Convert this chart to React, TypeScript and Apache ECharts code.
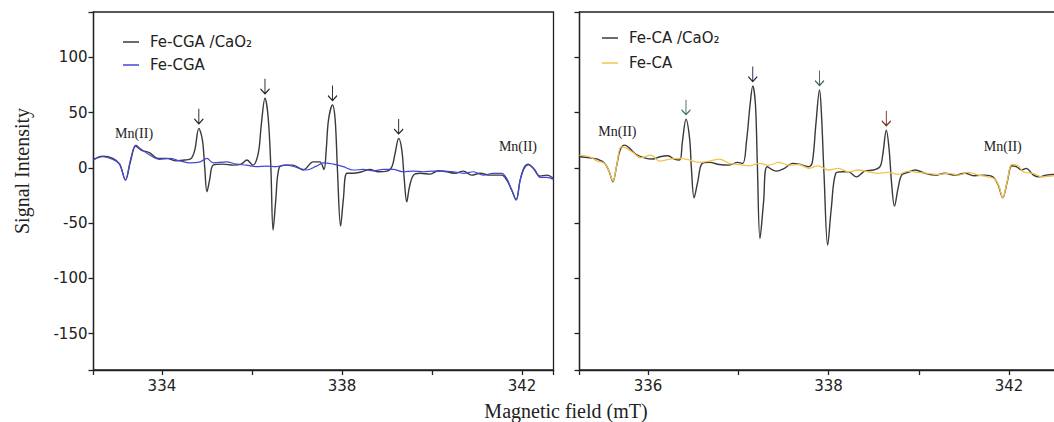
import React, { useEffect, useRef } from 'react';
import * as echarts from 'echarts';

// ---- data (field in mT, signal intensity) ----
const leftNames = ['Fe-CGA /CaO₂', 'Fe-CGA'];
const rightNames = ['Fe-CA /CaO₂', 'Fe-CA'];

const leftCaO2 = [
  [332.48, 7.6], [332.69, 10.6], [332.91, 8.5], [333.06, 3.3], [333.19, -11.1], [333.30, 5.4], [333.42, 19.7],
  [333.54, 16.0], [333.73, 13.6], [333.91, 8.5], [334.10, 8.5], [334.32, 6.3], [334.51, 7.0], [334.65, 8.5],
  [334.73, 16.0], [334.82, 35.7], [334.90, 25.0], [334.95, 1.0], [335.00, -21.7], [335.06, -11.0], [335.14, 2.4],
  [335.36, 3.3], [335.58, 2.4], [335.76, 3.3], [335.89, 7.0], [336.02, 2.4], [336.14, 13.0], [336.21, 40.0],
  [336.29, 62.9], [336.36, 46.0], [336.42, 1.0], [336.47, -56.4], [336.53, -29.0], [336.60, -0.5], [336.73, 2.4],
  [336.91, 2.4], [337.14, -2.0], [337.36, 5.4], [337.51, 5.4], [337.60, -1.5], [337.65, 16.0], [337.70, 43.0],
  [337.79, 56.8], [337.85, 43.0], [337.90, -2.0], [337.97, -52.8], [338.03, -29.0], [338.11, -5.0], [338.25, -5.0],
  [338.44, -3.6], [338.62, -1.5], [338.81, -3.6], [339.00, -3.0], [339.11, 1.0], [339.18, 13.0], [339.26, 26.6],
  [339.33, 16.0], [339.38, -8.2], [339.44, -30.8], [339.50, -17.2], [339.59, -6.6], [339.74, -5.0], [339.96, -5.7],
  [340.14, -2.7], [340.33, -3.6], [340.51, -5.0], [340.70, -3.0], [340.88, -6.6], [341.07, -5.0], [341.29, -6.6],
  [341.55, -6.6], [341.66, -11.0], [341.77, -20.0], [341.87, -29.0], [341.96, -11.0], [342.05, 0.4], [342.14, 3.3],
  [342.25, -0.5], [342.40, -7.5], [342.55, -6.6], [342.70, -9.6],
];

const leftCGA = [
  [332.48, 7.0], [332.69, 10.0], [332.91, 7.6], [333.06, 3.3], [333.19, -11.0], [333.30, 7.0], [333.42, 20.5],
  [333.54, 16.7], [333.73, 11.5], [333.95, 7.6], [334.17, 8.5], [334.40, 6.3], [334.62, 4.5], [334.85, 5.4],
  [335.00, 8.5], [335.14, 4.5], [335.43, 5.4], [335.65, 3.3], [335.88, 2.4], [336.10, 1.0], [336.32, 1.5],
  [336.54, 1.0], [336.76, 2.4], [336.99, 0.4], [337.21, -2.0], [337.43, 1.5], [337.59, 4.5], [337.81, 3.3],
  [338.03, 1.0], [338.25, -2.0], [338.47, -1.5], [338.70, -2.7], [338.92, -1.5], [339.14, -1.5], [339.36, -3.6],
  [339.59, -3.0], [339.81, -3.6], [340.03, -3.0], [340.25, -3.0], [340.48, -3.6], [340.70, -5.0], [340.92, -3.6],
  [341.14, -6.6], [341.36, -5.0], [341.55, -5.0], [341.66, -9.6], [341.77, -20.0], [341.87, -29.0], [341.96, -11.0],
  [342.05, -0.5], [342.14, 2.7], [342.29, -2.0], [342.40, -8.7], [342.55, -8.7], [342.70, -10.5],
];

const rightCaO2 = [
  [335.24, 10.0], [335.35, 9.0], [335.44, 7.9], [335.52, 4.0], [335.57, -3.6], [335.61, -12.7], [335.65, 1.0],
  [335.69, 16.0], [335.74, 20.5], [335.79, 18.0], [335.87, 12.0], [335.96, 9.0], [336.05, 7.9], [336.13, 10.0],
  [336.22, 10.9], [336.29, 7.9], [336.35, 7.0], [336.38, 23.5], [336.42, 44.0], [336.46, 26.6], [336.48, -0.5],
  [336.51, -27.2], [336.55, -12.7], [336.60, 4.0], [336.68, 4.9], [336.79, 3.0], [336.90, 2.4], [336.99, 4.9],
  [337.05, 4.0], [337.09, 23.5], [337.13, 56.8], [337.16, 74.0], [337.19, 56.8], [337.21, 5.4], [337.24, -64.0],
  [337.28, -30.8], [337.32, 1.0], [337.42, -3.0], [337.51, -0.5], [337.60, 4.0], [337.69, 3.0], [337.78, 1.0],
  [337.82, 5.0], [337.86, 40.0], [337.90, 70.4], [337.92, 50.7], [337.95, -6.6], [337.99, -70.0], [338.03, -36.8],
  [338.08, -5.0], [338.15, -3.6], [338.22, -3.6], [338.31, -8.2], [338.40, -3.0], [338.50, -2.0], [338.57, 1.0],
  [338.60, 11.5], [338.64, 34.0], [338.67, 17.6], [338.70, -15.7], [338.73, -34.7], [338.77, -18.7], [338.81, -6.6],
  [338.88, -4.2], [338.96, -2.0], [339.07, -5.0], [339.18, -6.6], [339.29, -5.0], [339.40, -6.6], [339.51, -5.0],
  [339.62, -7.2], [339.73, -6.6], [339.82, -8.2], [339.88, -15.7], [339.93, -27.2], [339.98, -12.7], [340.03, 1.8],
  [340.08, 1.0], [340.14, -2.0], [340.19, -0.5], [340.27, -6.6], [340.34, -8.2], [340.41, -6.6], [340.49, -6.0],
  [340.62, -6.5],
];

const rightCA = [
  [335.24, 11.5], [335.35, 10.0], [335.44, 6.0], [335.52, 4.0], [335.57, -3.6], [335.61, -12.0], [335.65, 1.0],
  [335.70, 19.0], [335.75, 18.0], [335.83, 14.0], [335.92, 9.0], [336.03, 11.5], [336.13, 6.0], [336.24, 7.9],
  [336.35, 8.5], [336.46, 7.0], [336.57, 4.9], [336.68, 6.0], [336.79, 7.9], [336.90, 4.0], [337.01, 3.0],
  [337.12, 1.8], [337.23, 4.0], [337.34, 2.4], [337.45, 4.9], [337.56, 2.4], [337.67, 3.0], [337.78, -0.5],
  [337.88, 1.8], [338.00, -2.0], [338.11, -0.5], [338.22, -3.6], [338.33, -2.0], [338.44, -3.6], [338.55, -5.0],
  [338.66, -4.2], [338.77, -6.0], [338.88, -3.0], [338.99, -4.2], [339.10, -5.0], [339.21, -6.0], [339.33, -5.0],
  [339.44, -6.6], [339.55, -4.2], [339.66, -6.6], [339.77, -8.2], [339.84, -10.2], [339.89, -17.2], [339.93, -27.2],
  [339.98, -12.0], [340.03, 3.0], [340.10, 1.8], [340.17, -4.2], [340.27, -5.0], [340.36, -8.2], [340.49, -7.2],
  [340.62, -7.0],
];

// tick labels
const yTickLabels = [-150, -100, -50, 0, 50, 100];
const leftXTickValues = [334, 338, 342];
const leftXTickLabels = ['334', '338', '342'];
const rightXTickValues = [336, 338, 340];
const rightXTickLabels = ['336', '338', '342'];

// annotations (field positions of arrowed peaks, Mn(II) label anchors)
const leftArrowFields = [334.82, 336.29, 337.79, 339.26];
const rightArrowFields = [336.42, 337.16, 337.90, 338.64];
const leftMn = [[333.38, 31.4], [341.91, 19.7]];
const rightMn = [[335.66, 33.2], [339.93, 19.7]];

const ARROW = 'path://M5 0 L5 20 M0.5 13.5 L5 20 L9.5 13.5';
const SANS = 'DejaVu Sans';
const SERIF = 'Liberation Serif';
const INK = '#222';

function nearest(data: number[][], f: number) {
  return data.reduce((b, p) => (Math.abs(p[0] - f) < Math.abs(b[0] - f) ? p : b));
}

function fmtTicks(values: number[], labels: string[]) {
  return (v: number) => {
    const i = values.findIndex((t) => Math.abs(t - v) < 1e-6);
    return i >= 0 ? labels[i] : '';
  };
}

function marks(data: number[][], arrowFields: number[], mn: number[][], arrowColors: string[]) {
  const arrows = arrowFields.map((f, i) => {
    const p = nearest(data, f);
    return {
      coord: [p[0], p[1]],
      symbol: ARROW,
      symbolSize: [9, 15],
      symbolOffset: [0, -12],
      itemStyle: { color: 'rgba(0,0,0,0)', borderColor: arrowColors[i], borderWidth: 1.2 },
      label: { show: false },
    };
  });
  const mnLabels = mn.map((c) => ({
    coord: c,
    symbol: 'circle',
    symbolSize: 1,
    itemStyle: { color: 'rgba(0,0,0,0)' },
    label: { show: true, position: 'inside', formatter: 'Mn(II)', fontFamily: SERIF, fontSize: 14, color: INK },
  }));
  return { silent: true, animation: false, data: [...arrows, ...mnLabels] };
}

function xAxisCfg(gridIndex: number, min: number, max: number, step: number, values: number[], labels: string[]) {
  return {
    type: 'value',
    gridIndex,
    min,
    max,
    minInterval: step,
    maxInterval: step,
    axisLine: { show: true, onZero: false, lineStyle: { color: INK, width: 1.3 } },
    axisTick: { show: true, inside: false, length: 5, lineStyle: { color: INK, width: 1.3 } },
    axisLabel: { formatter: fmtTicks(values, labels), fontFamily: SANS, fontSize: 15, color: INK, margin: 8 },
    splitLine: { show: false },
  };
}

function yAxisCfg(gridIndex: number, showLabels: boolean) {
  return {
    type: 'value',
    gridIndex,
    min: -183,
    max: 141,
    minInterval: 50,
    maxInterval: 50,
    axisLine: { show: true, onZero: false, lineStyle: { color: INK, width: 1.3 } },
    axisTick: { show: true, inside: false, length: 5, lineStyle: { color: INK, width: 1.3 } },
    axisLabel: {
      show: showLabels,
      formatter: (v: number) => (yTickLabels.includes(v) ? String(v) : ''),
      fontFamily: SANS,
      fontSize: 15,
      color: INK,
      margin: 6,
    },
    splitLine: { show: false },
  };
}

const legendCommon = {
  orient: 'vertical',
  icon: 'rect',
  itemWidth: 16,
  itemHeight: 1.5,
  selectedMode: false,
  textStyle: { fontFamily: SANS, fontSize: 15, color: INK, lineHeight: 18, padding: [0, 0, 0, 6] },
};

export default function App() {
  const ref = useRef<HTMLDivElement>(null);
  useEffect(() => {
    document.body.style.margin = '0';
    if (!ref.current) return;
    const chart = echarts.init(ref.current, null, { renderer: 'svg' });
    const lineCommon = { type: 'line', showSymbol: false, symbol: 'none', smooth: 0.35, animation: false };
    chart.setOption({
      animation: false,
      backgroundColor: '#fff',
      grid: [
        { left: 93.5, top: 12, width: 460, height: 358, show: true, borderColor: INK, borderWidth: 1.3 },
        { left: 579.5, top: 12, width: 485.5, height: 358, show: true, borderColor: INK, borderWidth: 1.3 },
      ],
      xAxis: [
        xAxisCfg(0, 332.48, 342.7, 2, leftXTickValues, leftXTickLabels),
        xAxisCfg(1, 335.24, 340.62, 1, rightXTickValues, rightXTickLabels),
      ],
      yAxis: [yAxisCfg(0, true), yAxisCfg(1, false)],
      legend: [
        { ...legendCommon, data: leftNames, left: 118, top: 28, itemGap: 5 },
        { ...legendCommon, data: rightNames, left: 597, top: 24, itemGap: 7 },
      ],
      series: [
        {
          ...lineCommon,
          name: leftNames[0],
          xAxisIndex: 0,
          yAxisIndex: 0,
          data: leftCaO2,
          color: '#3a3a3a',
          lineStyle: { color: '#3a3a3a', width: 1.4 },
          markPoint: marks(leftCaO2, leftArrowFields, leftMn, ['#222', '#222', '#222', '#222']),
        },
        {
          ...lineCommon,
          name: leftNames[1],
          xAxisIndex: 0,
          yAxisIndex: 0,
          data: leftCGA,
          color: '#4646d6',
          lineStyle: { color: '#4646d6', width: 1.2 },
        },
        {
          ...lineCommon,
          name: rightNames[0],
          xAxisIndex: 1,
          yAxisIndex: 1,
          data: rightCaO2,
          color: '#3a3a3a',
          lineStyle: { color: '#3a3a3a', width: 1.4 },
          markPoint: marks(rightCaO2, rightArrowFields, rightMn, ['#3f6f6c', '#23264a', '#46605a', '#7a3224']),
        },
        {
          ...lineCommon,
          name: rightNames[1],
          xAxisIndex: 1,
          yAxisIndex: 1,
          data: rightCA,
          color: '#f2c34e',
          lineStyle: { color: '#f2c34e', width: 1.3 },
        },
      ],
      graphic: [
        {
          type: 'text',
          x: 22,
          y: 171,
          rotation: Math.PI / 2,
          style: { text: 'Signal Intensity', fontFamily: SERIF, fontSize: 20, fill: INK, textAlign: 'center', textVerticalAlign: 'middle' },
        },
        {
          type: 'text',
          x: 566,
          y: 411,
          style: { text: 'Magnetic field (mT)', fontFamily: SERIF, fontSize: 20, fill: INK, textAlign: 'center', textVerticalAlign: 'middle' },
        },
      ],
    });
    return () => chart.dispose();
  }, []);
  return (
    <div style={{ width: 1054, height: 422, overflow: 'hidden', position: 'relative' }}>
      <div ref={ref} style={{ width: 1070, height: 422 }} />
    </div>
  );
}
